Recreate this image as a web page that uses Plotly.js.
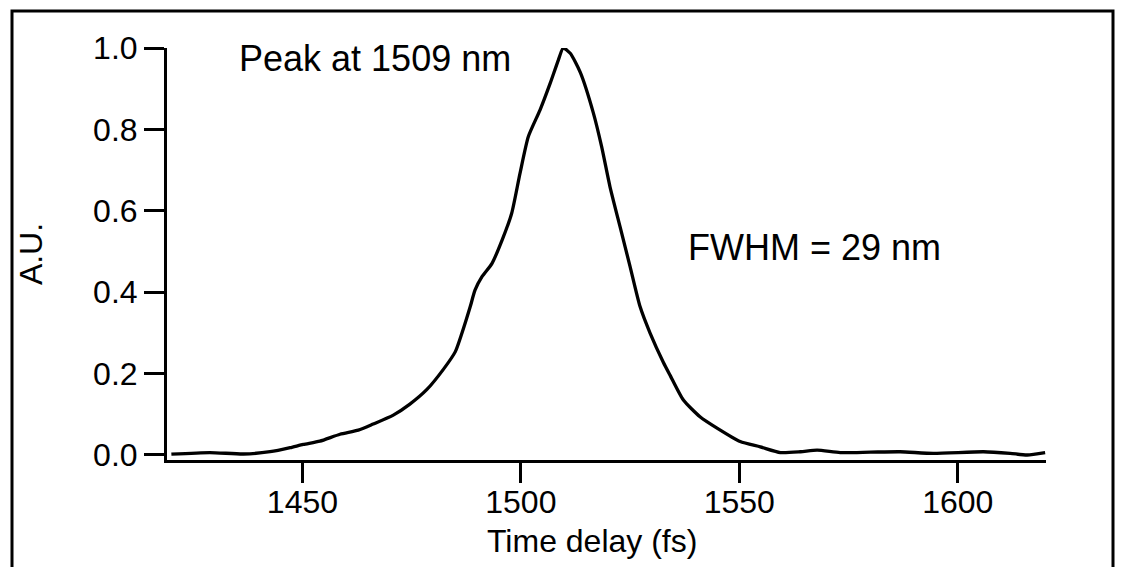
<!DOCTYPE html>
<html>
<head>
<meta charset="utf-8">
<script src="https://cdn.plot.ly/plotly-3.0.1.min.js"></script>
<style>html,body{margin:0;padding:0;background:#fff;}#plot{width:1123px;height:567px;}</style>
</head>
<body>
<div id="plot"></div>
<script>
// Time delay (fs)
const timeDelay = [1420, 1428.8, 1436.5, 1442.6, 1447.2, 1450.2, 1454, 1458.6, 1462.8, 1466.2,
  1470.8, 1474.6, 1478.5, 1482.3, 1485, 1486.5, 1488.4, 1489.5, 1491.1, 1493.4,
  1495.7, 1497.9, 1499.8, 1501.7, 1504.4, 1506.7, 1508.6, 1509.7, 1511.3, 1513.6,
  1516.6, 1518.5, 1520.4, 1522.7, 1525, 1527.3, 1529.6, 1532.6, 1534.2, 1537.2,
  1541, 1544.9, 1550.2, 1554.8, 1559.4, 1564, 1567.8, 1573.1, 1580, 1586.8,
  1594.4, 1605.9, 1612, 1615.9, 1620];
// Intensity (A.U.)
const intensity = [0.002, 0.006, 0.0025, 0.008, 0.018, 0.026, 0.034, 0.051, 0.061, 0.076,
  0.098, 0.125, 0.161, 0.211, 0.254, 0.299, 0.364, 0.405, 0.438, 0.471,
  0.528, 0.594, 0.692, 0.782, 0.848, 0.913, 0.971, 1.0, 0.987, 0.94,
  0.84, 0.757, 0.659, 0.561, 0.463, 0.364, 0.299, 0.228, 0.195, 0.135,
  0.094, 0.066, 0.033, 0.020, 0.006, 0.008, 0.012, 0.006, 0.007, 0.008,
  0.004, 0.008, 0.004, 0.0, 0.006];
const xTicks = [1450, 1500, 1550, 1600];
const yTicks = [0.0, 0.2, 0.4, 0.6, 0.8, 1.0];
const xTitle = "Time delay (fs)";
const yTitle = "A.U.";
const peakText = "Peak at 1509 nm";
const fwhmText = "FWHM = 29 nm";

const FONT = "Liberation Sans, Arial, Helvetica, sans-serif";

const trace = {
  x: timeDelay, y: intensity, type: "scatter", mode: "lines",
  line: {color: "#000", width: 3.3, shape: "spline", smoothing: 0.6},
  hoverinfo: "skip", showlegend: false
};

const layout = {
  width: 1123, height: 567,
  margin: {l: 167, r: 77, t: 48, b: 107, pad: 0},
  paper_bgcolor: "#fff", plot_bgcolor: "#fff",
  font: {family: FONT, color: "#000", size: 32},
  showlegend: false,
  xaxis: {
    range: [1419, 1620.2], tickvals: xTicks, ticktext: xTicks.map(String),
    showgrid: false, zeroline: false, showline: true, linecolor: "#000", linewidth: 3,
    ticks: "outside", ticklen: 20, tickwidth: 3, tickcolor: "#000",
    ticklabelstandoff: -8,
    tickfont: {family: FONT, size: 32, color: "#000"},
    automargin: false
  },
  yaxis: {
    range: [-0.0123, 1.0], tickvals: yTicks, ticktext: yTicks.map(v => v.toFixed(1)),
    showgrid: false, zeroline: false, showline: true, linecolor: "#000", linewidth: 3,
    ticks: "outside", ticklen: 20, tickwidth: 3, tickcolor: "#000",
    tickfont: {family: FONT, size: 32, color: "#000"},
    title: {text: yTitle, font: {family: FONT, size: 32, color: "#000"}, standoff: 41},
    automargin: false
  },
  annotations: [
    {text: xTitle, xref: "paper", yref: "paper", x: (592 - 167) / 879, y: (460 - 541) / 412,
     xanchor: "center", yanchor: "middle", showarrow: false,
     font: {family: FONT, size: 32, color: "#000"}},
    {text: peakText, xref: "x", yref: "y", x: 1435, y: 0.975, xanchor: "left", yanchor: "middle",
     showarrow: false, font: {family: FONT, size: 36, color: "#000"}},
    {text: fwhmText, xref: "x", yref: "y", x: 1537.8, y: 0.51, xanchor: "left", yanchor: "middle",
     showarrow: false, font: {family: FONT, size: 36, color: "#000"}}
  ],
  shapes: [
    {type: "rect", xref: "paper", yref: "paper",
     x0: (12 - 167) / 879, x1: (1113 - 167) / 879,
     y0: (460 - 575) / 412, y1: (460 - 11) / 412,
     line: {color: "#000", width: 3}, fillcolor: "rgba(0,0,0,0)", layer: "below"}
  ]
};

Plotly.newPlot("plot", [trace], layout, {staticPlot: true, displayModeBar: false});
</script>
</body>
</html>
